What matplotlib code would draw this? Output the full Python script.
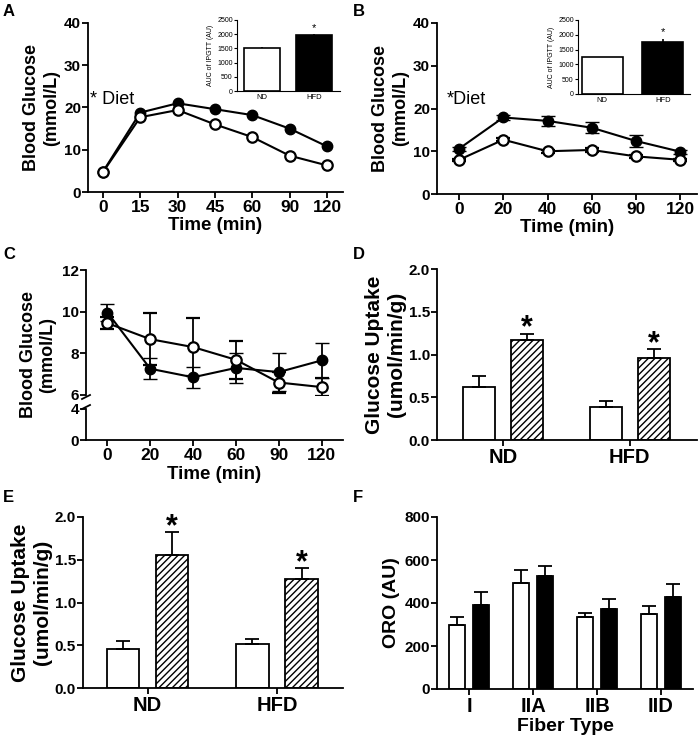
import matplotlib.pyplot as plt
import numpy as np

plt.rcParams['font.family'] = ['Liberation Sans', 'DejaVu Sans']
plt.rcParams['font.weight'] = 'bold'
plt.rcParams['axes.labelweight'] = 'bold'
plt.rcParams['hatch.linewidth'] = 1.0

# ---- data ----
a_time = ['0', '15', '30', '45', '60', '90', '120']
a_nd = [4.7, 17.7, 19.4, 16.0, 13.0, 8.6, 6.3]
a_hfd = [4.8, 18.8, 21.0, 19.6, 18.2, 15.0, 10.8]
auc_groups = ['ND', 'HFD']
a_auc = [1500, 1960]
a_auc_err = [45, 35]

b_time = ['0', '20', '40', '60', '90', '120']
b_nd = [8.0, 12.7, 10.0, 10.3, 8.8, 8.0]
b_nd_err = [0.3, 0.4, 0.3, 0.4, 0.3, 0.3]
b_hfd = [10.6, 17.9, 17.1, 15.5, 12.4, 9.9]
b_hfd_err = [0.5, 0.5, 1.2, 1.3, 1.3, 0.5]
b_auc = [1240, 1770]
b_auc_err = [20, 90]

c_time = ['0', '20', '40', '60', '90', '120']
c_nd = [9.45, 8.68, 8.3, 7.69, 6.6, 6.38]
c_nd_err = [0.3, 1.25, 1.4, 0.9, 0.5, 0.45]
c_hfd = [9.96, 7.26, 6.85, 7.3, 7.1, 7.66]
c_hfd_err = [0.4, 0.5, 0.5, 0.7, 0.9, 0.85]

diet = ['ND', 'HFD']
d_basal = [0.625, 0.39]
d_basal_err = [0.12, 0.067]
d_ins = [1.164, 0.96]
d_ins_err = [0.078, 0.10]

e_basal = [0.46, 0.51]
e_basal_err = [0.086, 0.065]
e_ins = [1.55, 1.28]
e_ins_err = [0.27, 0.12]

fibers = ['I', 'IIA', 'IIB', 'IID']
f_nd = [300, 495, 333, 350]
f_nd_err = [36, 57, 21, 37]
f_hfd = [390, 526, 371, 426]
f_hfd_err = [60, 46, 48, 64]

W, H = 699, 740
fig = plt.figure(figsize=(W / 100, H / 100), dpi=100)


def box(l, t, r, b):
    return fig.add_axes([l / W, 1 - b / H, (r - l) / W, (b - t) / H])


def style(ax, xt=12.5, yt=11, lw=1.3):
    for s in ['top', 'right']:
        ax.spines[s].set_visible(False)
    for s in ['left', 'bottom']:
        ax.spines[s].set_linewidth(lw)
    ax.tick_params(width=lw, length=4)
    ax.tick_params(axis='x', labelsize=xt, pad=2)
    ax.tick_params(axis='y', labelsize=yt, pad=1)


def lines(ax, x, nd, hfd, nd_err=None, hfd_err=None):
    ax.errorbar(x, hfd, yerr=hfd_err, color='black', lw=1.5, marker='o', ms=7.5,
                mfc='black', mec='black', capsize=5, elinewidth=1.3, zorder=3)
    ax.errorbar(x, nd, yerr=nd_err, color='black', lw=1.5, marker='o', ms=7.5,
                mfc='white', mec='black', mew=1.6, capsize=5, elinewidth=1.3, zorder=4)


def inset(ax, vals, errs):
    x = np.arange(len(auc_groups))
    ax.bar(x, vals, width=0.68, color=['white', 'black'], edgecolor='black', lw=1.2)
    ax.errorbar(x, vals, yerr=[[0, 0], errs], fmt='none', ecolor='black', elinewidth=1.2, capsize=0)
    style(ax, xt=5.5, yt=5, lw=0.8)
    ax.tick_params(length=2, pad=1)
    ax.set_ylim(0, 2500)
    ax.set_yticks([0, 500, 1000, 1500, 2000, 2500])
    ax.set_xticks(x, auc_groups)
    ax.tick_params(axis='x', length=0, pad=2)
    ax.set_ylabel('AUC of IPGTT (AU)', fontsize=5, fontweight='normal', labelpad=2)
    for lab in ax.get_yticklabels() + ax.get_xticklabels():
        lab.set_fontweight('normal')
    ax.text(1, vals[1] + errs[1] + 60, '*', ha='center', va='bottom', fontsize=8, fontweight='normal')


def bars(ax, cats, v1, e1, v2, e2, second, off=0.19, w=0.25):
    x = np.arange(len(cats))
    if second == 'hatch':
        ax.bar(x + off, v2, width=w, color='white', edgecolor='black', lw=1.3, hatch='/////')
    else:
        ax.bar(x + off, v2, width=w, color='black', edgecolor='black', lw=1.3)
    ax.bar(x - off, v1, width=w, color='white', edgecolor='black', lw=1.3)
    ax.errorbar(x - off, v1, yerr=[np.zeros(len(x)), e1], fmt='none', ecolor='black', elinewidth=1.3, capsize=5, capthick=1.3)
    ax.errorbar(x + off, v2, yerr=[np.zeros(len(x)), e2], fmt='none', ecolor='black', elinewidth=1.3, capsize=5, capthick=1.3)
    ax.set_xticks(x, cats)
    return x


def stars(ax, x, vals, errs):
    for xi, v, e in zip(x, vals, errs):
        ax.annotate('*', xy=(xi, v + e), xytext=(0, -2), textcoords='offset points',
                    ha='center', va='baseline', fontsize=22)


# ---- A ----
ax = box(88, 23, 343, 192)
xa = np.arange(len(a_time))
lines(ax, xa, a_nd, a_hfd)
style(ax)
ax.set_xlim(-0.4, 6.43)
ax.set_ylim(0, 40)
ax.set_yticks([0, 10, 20, 30, 40])
ax.set_xticks(xa, a_time)
ax.set_xlabel('Time (min)', fontsize=13.5, labelpad=1)
ax.set_ylabel('Blood Glucose\n(mmol/L)', fontsize=13, labelpad=3)
fig.text(90 / W, 1 - 100 / H, '* Diet', fontsize=13, fontweight='normal', va='center')
ax_i = box(237, 20, 340, 91)
inset(ax_i, a_auc, a_auc_err)
ax_i.set_xlim(-0.47, 1.49)

# ---- B ----
ax = box(437, 23, 697, 194)
xb = np.arange(len(b_time))
lines(ax, xb, b_nd, b_hfd, b_nd_err, b_hfd_err)
style(ax)
ax.set_xlim(-0.5, 5.38)
ax.set_ylim(0, 40)
ax.set_yticks([0, 10, 20, 30, 40])
ax.set_xticks(xb, b_time)
ax.set_xlabel('Time (min)', fontsize=13.5, labelpad=1)
ax.set_ylabel('Blood Glucose\n(mmol/L)', fontsize=13, labelpad=3)
fig.text(447 / W, 1 - 100 / H, '*Diet', fontsize=13, fontweight='normal', va='center')
ax_i = box(578, 20, 690, 94)
inset(ax_i, b_auc, b_auc_err)
ax_i.set_xlim(-0.4, 1.45)

# ---- C (broken axis) ----
xc = np.arange(len(c_time))
ax_top = box(86, 270, 343, 395)
ax_bot = box(86, 409, 343, 440)
lines(ax_top, xc, c_nd, c_hfd, c_nd_err, c_hfd_err)
for a_ in (ax_top, ax_bot):
    style(a_)
    a_.set_xlim(-0.5, 5.5)
ax_top.set_ylim(6, 12)
ax_top.set_yticks([6, 8, 10, 12])
ax_top.spines['bottom'].set_visible(False)
ax_top.tick_params(axis='x', bottom=False, labelbottom=False)
ax_bot.set_ylim(0, 4)
ax_bot.set_yticks([0, 4])
ax_bot.set_xticks(xc, c_time)
ax_bot.set_xlabel('Time (min)', fontsize=13.5, labelpad=2)
fig.text(38 / W, 1 - 355 / H, 'Blood Glucose\n(mmol/L)', fontsize=13, rotation=90,
         ha='center', va='center', multialignment='center')
# break marks
fig.add_artist(plt.Line2D([82 / W, 90 / W], [1 - 399 / H, 1 - 395 / H], color='black', lw=1.3))
fig.add_artist(plt.Line2D([82 / W, 90 / W], [1 - 409 / H, 1 - 405 / H], color='black', lw=1.3))

# ---- D ----
ax = box(437, 269, 697, 440)
xd = bars(ax, diet, d_basal, d_basal_err, d_ins, d_ins_err, 'hatch')
style(ax, xt=14.5)
ax.set_xlim(-0.52, 1.53)
ax.set_ylim(0, 2.0)
ax.set_yticks([0, 0.5, 1.0, 1.5, 2.0])
ax.set_yticklabels(['0.0', '0.5', '1.0', '1.5', '2.0'])
ax.set_ylabel('Glucose Uptake\n(umol/min/g)', fontsize=15, labelpad=2)
stars(ax, xd + 0.19, d_ins, d_ins_err)

# ---- E ----
ax = box(83, 517, 343, 688)
xe = bars(ax, diet, e_basal, e_basal_err, e_ins, e_ins_err, 'hatch')
style(ax, xt=14.5)
ax.set_xlim(-0.5, 1.51)
ax.set_ylim(0, 2.0)
ax.set_yticks([0, 0.5, 1.0, 1.5, 2.0])
ax.set_yticklabels(['0.0', '0.5', '1.0', '1.5', '2.0'])
ax.set_ylabel('Glucose Uptake\n(umol/min/g)', fontsize=15, labelpad=2)
stars(ax, xe + 0.19, e_ins, e_ins_err)

# ---- F ----
ax = box(437, 517, 693, 689)
bars(ax, fibers, f_nd, f_nd_err, f_hfd, f_hfd_err, 'solid')
style(ax, xt=14.5)
ax.set_xlim(-0.5, 3.5)
ax.set_ylim(0, 800)
ax.set_yticks([0, 200, 400, 600, 800])
ax.set_xlabel('Fiber Type', fontsize=14, labelpad=1)
ax.set_ylabel('ORO (AU)', fontsize=14, labelpad=3)

# panel letters
for lab, (px, py) in zip('ABCDEF', [(3, 12), (353, 12), (3, 255), (353, 255), (3, 497), (353, 497)]):
    fig.text(px / W, 1 - py / H, lab, fontsize=12, fontweight='bold', va='center')

plt.savefig('out.png', dpi=100)
